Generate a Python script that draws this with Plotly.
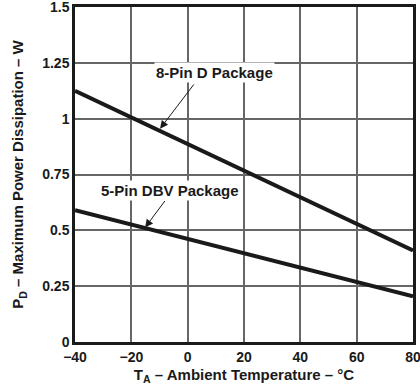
import plotly.graph_objects as go

# ambient temperature (degC) and max power dissipation (W)
temp = [-40, 80]
pd_d_pkg = [1.125, 0.41]
pd_dbv_pkg = [0.59, 0.205]

x_ticks = [-40, -20, 0, 20, 40, 60, 80]
y_ticks = [0, 0.25, 0.5, 0.75, 1, 1.25, 1.5]
y_labels = ["0", "0.25", "0.5", "0.75", "1", "1.25", "1.5"]

FONT = "Liberation Sans, Arial, sans-serif"
BLACK = "#1a1a1a"
GRID = "#666666"

fig = go.Figure()
for y in (pd_d_pkg, pd_dbv_pkg):
    fig.add_trace(go.Scatter(x=temp, y=y, mode="lines",
                             line=dict(color=BLACK, width=4),
                             showlegend=False, hoverinfo="skip"))

# labels + arrows
label_font = dict(size=15, family=FONT, color=BLACK, weight="bold")
fig.add_annotation(x=-9.8, y=0.955, ax=2.6, ay=1.16, axref="x", ayref="y",
                   text="", showarrow=True, arrowhead=2, arrowsize=1.6,
                   arrowwidth=1, arrowcolor=BLACK)
fig.add_annotation(x=9.7, y=1.205, text="8-Pin D Package", showarrow=False,
                   bgcolor="white", font=label_font)
fig.add_annotation(x=-15.1, y=0.513, ax=-7.7, ay=0.638, axref="x", ayref="y",
                   text="", showarrow=True, arrowhead=2, arrowsize=1.6,
                   arrowwidth=1, arrowcolor=BLACK)
fig.add_annotation(x=-6.3, y=0.679, text="5-Pin DBV Package", showarrow=False,
                   bgcolor="white", font=label_font)

axis_common = dict(showline=True, linecolor=BLACK, linewidth=2.5, mirror=True,
                   showgrid=True, gridcolor=GRID, gridwidth=2, zeroline=False,
                   ticks="", automargin=False, ticklabeloverflow="allow",
                   tickfont=dict(size=14, family=FONT, color=BLACK, weight="bold"),
                   title_font=dict(size=15, family=FONT, color=BLACK, weight="bold"))

fig.update_xaxes(range=[-40, 80], dtick=x_ticks[1] - x_ticks[0],
                 title_text="T<sub>A</sub> \u2013 Ambient Temperature \u2013 \u00b0C",
                 title_standoff=6, **axis_common)
fig.update_yaxes(range=[0, 1.5], tickvals=y_ticks, ticktext=y_labels,
                 title_text="P<sub>D</sub> \u2013 Maximum Power Dissipation \u2013 W",
                 title_standoff=15, **axis_common)

fig.update_layout(width=420, height=389, paper_bgcolor="white", plot_bgcolor="white",
                  margin=dict(l=75, r=7, t=7, b=47),
                  font=dict(family=FONT, color=BLACK))

fig.write_html("out.html", config={"displayModeBar": False},
               post_script="document.body.style.margin='0';")
